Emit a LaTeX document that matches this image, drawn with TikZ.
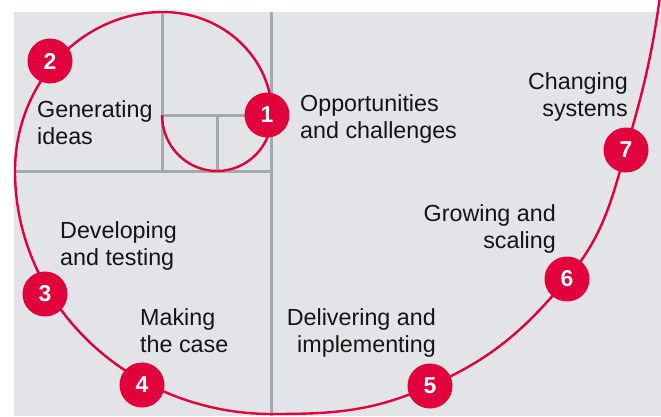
\documentclass[tikz,border=0pt]{standalone}
\usepackage{fontspec}
\setmainfont{Liberation Sans}
\definecolor{bg}{HTML}{E3E4E8}
\definecolor{grid}{HTML}{A2AAB0}
\definecolor{spiral}{HTML}{E1003B}
\definecolor{ink}{HTML}{141414}
\begin{document}
\begin{tikzpicture}[x=1pt,y=1pt,
  gridline/.style={draw=grid, line width=3pt},
  spiralline/.style={draw=spiral, line width=2.4pt},
  num/.style={circle, fill=spiral, minimum size=45pt, inner sep=0pt, text=white, font=\fontsize{23}{23}\selectfont\bfseries},
  lbl/.style={inner sep=0pt, text=ink, font=\fontsize{23.3}{27}\selectfont},
]
\useasboundingbox (0,0) rectangle (661,-416);
\fill[bg] (14,-12) rectangle (661,-416);
% grid of squares
\draw[gridline] (271,-12) -- (271,-416);
\draw[gridline] (14,-171) -- (271,-171);
\draw[gridline] (162,-12) -- (162,-171);
\draw[gridline] (162,-115) -- (271,-115);
\draw[gridline] (217,-115) -- (217,-171);
% spiral
\draw[spiralline] (162,-115)
  arc[start angle=180,end angle=360,x radius=55,y radius=56]
  arc[start angle=0,end angle=90,x radius=109,y radius=103]
  arc[start angle=90,end angle=180,x radius=148,y radius=159]
  arc[start angle=180,end angle=270,x radius=257,y radius=243]
  to[out=0,in=204] (430,-386)
  to[out=24,in=230] (567,-279)
  to[out=50,in=254] (626,-150)
  to[out=74,in=262] (659.5,0);
% labels (base anchor = baseline of the last line)
\node[lbl, anchor=base west, align=left] (t1) at (300,-138.5) {Opportunities\\and challenges};
\node[lbl, anchor=base west, align=left] (t2) at (37,-144) {Generating\\ideas};
\node[lbl, anchor=base west, align=left] (t3) at (60,-265) {Developing\\and testing};
\node[lbl, anchor=base west, align=left] (t4) at (140,-352) {Making\\the case};
\node[lbl, anchor=base east, align=right] (t5) at (436,-352) {Delivering and\\implementing};
\node[lbl, anchor=base east, align=right] (t6) at (556,-248) {Growing and\\scaling};
\node[lbl, anchor=base east, align=right] (t7) at (628,-116) {Changing\\systems};
% numbered circles
\node[num] (c1) at (267,-115) {1};
\node[num] (c2) at (50,-61) {2};
\node[num] (c3) at (45,-294) {3};
\node[num] (c4) at (142,-385) {4};
\node[num] (c5) at (430,-386) {5};
\node[num] (c6) at (567,-279) {6};
\node[num] (c7) at (626,-150) {7};
\end{tikzpicture}
\end{document}
